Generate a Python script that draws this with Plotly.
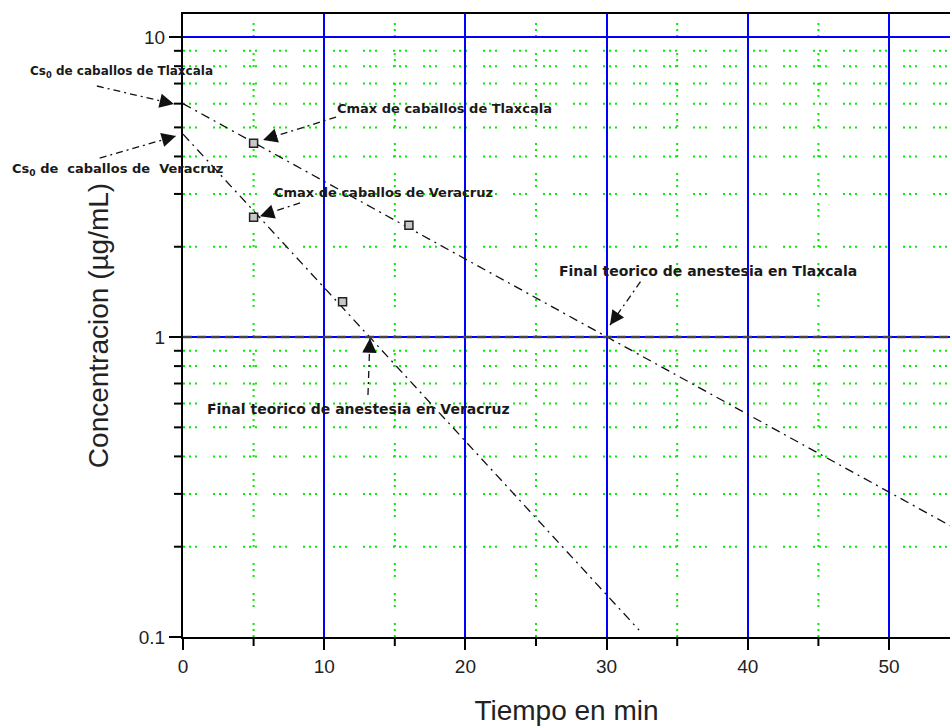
import math
import plotly.graph_objects as go

# Measured concentrations (µg/mL) after dosing, by origin of the horses
tiempo_tlax = [5, 16]
conc_tlax = [4.43, 2.36]
tiempo_vera = [5, 11.3]
conc_vera = [2.51, 1.31]

# Log-linear elimination fits: Cs0 (µg/mL) and log10 slope (per min)
cs0_tlax, pend_tlax = 6.0, 0.0259
cs0_vera, pend_vera = 4.75, 0.0512
ajuste_t_tlax = [0, 54.32]
ajuste_t_vera = [0, 32.3]

# Theoretical end of anaesthesia threshold
umbral = 1.0

# Axis ticks
x_mayores = [0, 10, 20, 30, 40, 50]
x_menores = [5, 15, 25, 35, 45]
y_mayores = [0.1, 1, 10]
y_etiquetas = ["0.1", "1", "10"]
y_menores = [0.2, 0.3, 0.4, 0.5, 0.6, 0.7, 0.8, 0.9, 2, 3, 4, 5, 6, 7, 8, 9]

X_RANGE = [0, 54.32]
Y_RANGE = [-1, 1.077]  # log10 units
W, H = 950, 726
M = dict(l=183, r=0, t=14, b=89)
PW = W - M["l"] - M["r"]
PH = H - M["t"] - M["b"]


def px_x(t):
    return (t - X_RANGE[0]) / (X_RANGE[1] - X_RANGE[0])


def px_y(c):
    return (math.log10(c) - Y_RANGE[0]) / (Y_RANGE[1] - Y_RANGE[0])


def fit(t, cs0, pend):
    return [cs0 * 10 ** (-pend * v) for v in t]


fig = go.Figure()

LINE_DASH = "9px,5px,2px,5px"

fig.add_trace(go.Scatter(
    x=ajuste_t_tlax, y=fit(ajuste_t_tlax, cs0_tlax, pend_tlax), mode="lines",
    line=dict(color="#111", width=1.3, dash=LINE_DASH), showlegend=False))
fig.add_trace(go.Scatter(
    x=ajuste_t_vera, y=fit(ajuste_t_vera, cs0_vera, pend_vera), mode="lines",
    line=dict(color="#111", width=1.3, dash=LINE_DASH), showlegend=False))
fig.add_trace(go.Scatter(
    x=X_RANGE, y=[umbral, umbral], mode="lines",
    line=dict(color="#444", width=2.5, dash="9px,5px"), showlegend=False))

marker_style = dict(symbol="square", size=8, color="#c8c8c8",
                    line=dict(color="#222", width=1.5))
fig.add_trace(go.Scatter(x=tiempo_tlax, y=conc_tlax, mode="markers",
                         marker=marker_style, showlegend=False))
fig.add_trace(go.Scatter(x=tiempo_vera, y=conc_vera, mode="markers",
                         marker=marker_style, showlegend=False))

shapes = []
annotations = []

# Minor grid (dotted green) and minor ticks
GRID = dict(color="#00ee00", width=2, dash="2px,4px,2px,4px,2px,16px")
TICK = dict(color="black", width=2)
for t in x_menores:
    shapes.append(dict(type="line", xref="paper", yref="paper", layer="below",
                       x0=px_x(t), x1=px_x(t), y0=0, y1=1, line=GRID))
    shapes.append(dict(type="line", xref="paper", yref="paper",
                       x0=px_x(t), x1=px_x(t), y0=0, y1=-9 / PH, line=TICK))
for c in y_menores:
    shapes.append(dict(type="line", xref="paper", yref="paper", layer="below",
                       x0=0, x1=1, y0=px_y(c), y1=px_y(c), line=GRID))
    shapes.append(dict(type="line", xref="paper", yref="paper",
                       x0=0, x1=-9 / PW, y0=px_y(c), y1=px_y(c), line=TICK))

# Labelled arrows: (text, font size, left edge of text, arrow tail, arrow tip) in data units
notas = [
    ("Cs<sub>0</sub> de caballos de Tlaxcala", 12, (-10.98, 7.65), (-6.1, 6.87), (-0.64, 5.98)),
    ("Cs<sub>0</sub> de  caballos de  Veracruz", 13, (-12.25, 3.63), (-5.9, 3.95), (-0.5, 4.68)),
    ("Cmax de caballos de Tlaxcala", 13, (10.76, 5.80), (10.84, 5.41), (5.67, 4.54)),
    ("Cmax de caballos de Veracruz", 13, (6.3, 3.04), (8.29, 2.80), (5.45, 2.53)),
    ("Final teorico de anestesia en Tlaxcala", 14, (26.49, 1.66), (32.4, 1.53), (30.24, 1.096)),
    ("Final teorico de anestesia en Veracruz", 14, (1.56, 0.575), (13.1, 0.641), (13.24, 0.99)),
]

for texto, tam, pos, cola, punta in notas:
    annotations.append(dict(
        x=px_x(pos[0]), y=px_y(pos[1]), xref="paper", yref="paper", text=texto,
        showarrow=False,
        font=dict(family="DejaVu Sans", size=tam, color="#1a1a1a", weight="bold"),
        xanchor="left", yanchor="middle"))
    x0, y0 = px_x(cola[0]), px_y(cola[1])
    x1, y1 = px_x(punta[0]), px_y(punta[1])
    shapes.append(dict(type="line", xref="paper", yref="paper",
                       x0=x0, y0=y0, x1=x1, y1=y1,
                       line=dict(color="#111", width=1.3, dash="7px,4px,2px,4px")))
    # short solid stub carrying the filled arrowhead
    dx = (x0 - x1) * PW
    dy = -(y0 - y1) * PH
    n = math.hypot(dx, dy)
    annotations.append(dict(
        x=x1, y=y1, xref="paper", yref="paper", text="", showarrow=True,
        ax=dx / n * 14, ay=dy / n * 14, arrowhead=2, arrowsize=2.2,
        arrowwidth=1.3, arrowcolor="#111"))

tick_font = dict(family="Liberation Sans, Arial", size=19, color="#222")
title_font = dict(family="Liberation Sans, Arial", size=28, color="#222")

fig.update_layout(
    width=W, height=H, margin=M,
    paper_bgcolor="white", plot_bgcolor="white",
    shapes=shapes, annotations=annotations,
    xaxis=dict(
        range=X_RANGE, tickvals=x_mayores,
        showline=True, linecolor="black", linewidth=2, mirror=True,
        ticks="outside", ticklen=11, tickwidth=2, tickcolor="black",
        showgrid=True, gridcolor="#0000ff", gridwidth=2, zeroline=False,
        tickfont=tick_font,
        title=dict(text="Tiempo en min", font=title_font, standoff=28),
    ),
    yaxis=dict(
        type="log", range=Y_RANGE,
        tickvals=y_mayores, ticktext=y_etiquetas,
        showline=True, linecolor="black", linewidth=2,
        ticks="outside", ticklen=12, tickwidth=2, tickcolor="black",
        showgrid=True, gridcolor="#0000ff", gridwidth=2, zeroline=False,
        tickfont=tick_font,
        title=dict(text="Concentracion (µg/mL)", font=title_font, standoff=22),
    ),
)

fig.write_html("out.html")
